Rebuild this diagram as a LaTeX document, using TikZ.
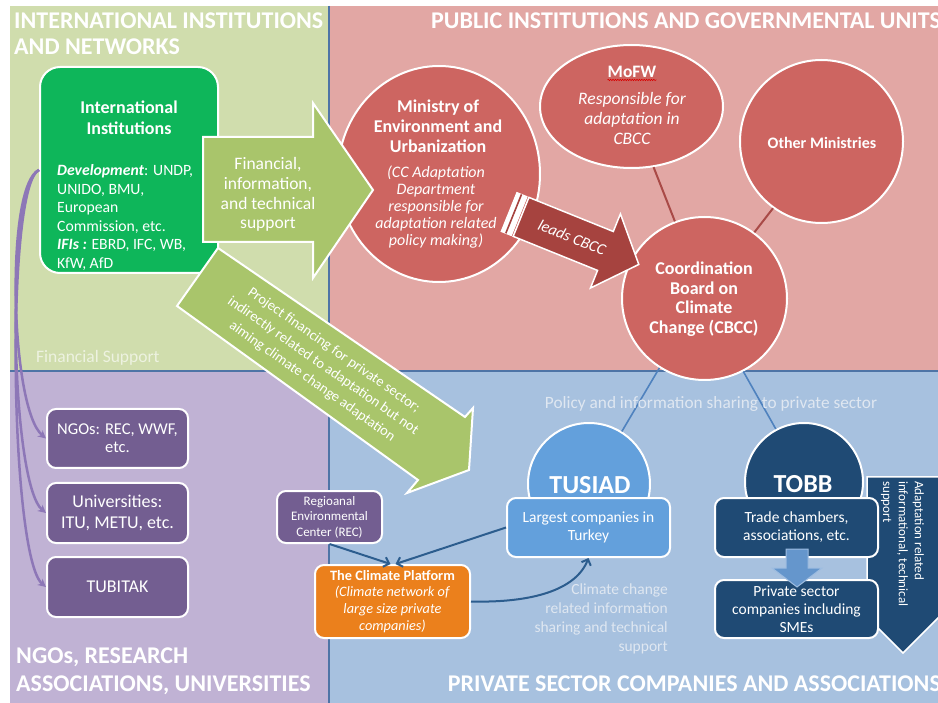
\documentclass[tikz,border=0pt]{standalone}
\usepackage{fontspec}
\setmainfont{Carlito}
\usetikzlibrary{arrows.meta,shapes.geometric,calc,decorations.pathmorphing}
\definecolor{qgreen}{HTML}{D0DDAD}
\definecolor{qpink}{HTML}{E2A7A4}
\definecolor{qpurple}{HTML}{C0B2D4}
\definecolor{qblue}{HTML}{A7C1DF}
\definecolor{divider}{HTML}{4E74A6}
\definecolor{intgreen}{HTML}{0EB65A}
\definecolor{arrgreen}{HTML}{A9C56B}
\definecolor{redcirc}{HTML}{CD6561}
\definecolor{leadsred}{HTML}{A6433F}
\definecolor{redline}{HTML}{A94A47}
\definecolor{tusblue}{HTML}{63A0DC}
\definecolor{tobbblue}{HTML}{1F4A74}
\definecolor{smallarr}{HTML}{6596CC}
\definecolor{smallarrline}{HTML}{9DBCE0}
\definecolor{cpurbox}{HTML}{735E91}
\definecolor{purline}{HTML}{8D77B7}
\definecolor{orangebox}{HTML}{EB801C}
\definecolor{conblue}{HTML}{2C5D8E}
\definecolor{linkblue}{HTML}{4F82BE}
\definecolor{paletext}{HTML}{DFE7F1}
\definecolor{palegreen}{HTML}{EDF2E0}
\newcommand\fsz[2]{\fontsize{#1}{#2}\selectfont}
\tikzset{
  qtitle/.style={text=white, font=\bfseries\fsz{24}{28}, inner sep=0},
  redell/.style={ellipse, fill=redcirc, draw=white, line width=2pt, inner sep=0},
  wtext/.style={text=white, inner sep=0, align=center},
  redlink/.style={draw=redline, line width=2pt},
  bluelink/.style={draw=linkblue, line width=1.6pt},
  rbox/.style={rectangle, rounded corners=9pt, draw=white, line width=2pt, inner sep=0},
  pbox/.style={rbox, fill=cpurbox, text=white, align=center},
  purarrow/.style={draw=purline, line width=2.5pt, -{Stealth[length=8pt,width=8pt]}},
  conn/.style={draw=conblue, line width=2pt, -{Straight Barb[length=5pt,width=10pt]}},
  blockarrow/.style={draw=white, line width=2pt, line join=miter}
}
\begin{document}
\begin{tikzpicture}[x=1pt,y=-1pt]
\useasboundingbox (0,0) rectangle (938,703);
\fill[white] (0,0) rectangle (938,703);
% quadrants
\fill[qgreen] (10,6) rectangle (329,371);
\fill[qpink] (329,6) rectangle (938,371);
\fill[qpurple] (10,371) rectangle (329,703);
\fill[qblue] (329,371) rectangle (938,703);
\draw[divider, line width=2pt] (329,6) -- (329,703) (10,371) -- (938,371);
% titles
\node[qtitle, anchor=base west] (tintl1) at (14,28.5) {INTERNATIONAL INSTITUTIONS};
\node[qtitle, anchor=base west] (tintl2) at (14,55) {AND NETWORKS};
\node[qtitle, anchor=base east] (tpub) at (941,28.5) {PUBLIC INSTITUTIONS AND GOVERNMENTAL UNITS};
\node[qtitle, anchor=base west] (tngo1) at (16,663.5) {NGOs, RESEARCH};
\node[qtitle, anchor=base west] (tngo2) at (16,691) {ASSOCIATIONS, UNIVERSITIES};
\node[qtitle, anchor=base east] (tpriv) at (941,691) {PRIVATE SECTOR COMPANIES AND ASSOCIATIONS};
\node[text=palegreen, font=\fsz{17.5}{20}, inner sep=0, anchor=west] (finsup) at (36,358) {Financial Support};
% red circles
\node[redell, minimum width=202, minimum height=216] (moeu) at (439,174) {};
\node[redell, minimum width=183, minimum height=123] (mofw) at (631.5,106.5) {};
\node[redell, minimum width=163, minimum height=163] (other) at (821.5,141.5) {};
\node[redell, minimum width=165, minimum height=163] (cbcc) at (704.5,298.5) {};
\draw[redlink] (mofw.-70) -- (cbcc.111);
\draw[redlink] (other.-126) -- (cbcc.53);
\node[wtext, font=\bfseries\fsz{18}{19.8}] (moeut1) at (438,126.5) {Ministry of\\Environment and\\Urbanization};
\node[wtext, font=\itshape\fsz{16}{17.2}] (moeut2) at (436,207) {(CC Adaptation\\Department\\responsible for\\adaptation related\\policy making)};
\node[wtext, font=\bfseries\fsz{17.5}{20}] (mofwt) at (632,72) {MoFW};
\draw[red!85!black, line width=0.6pt, decorate, decoration={snake, amplitude=0.7pt, segment length=2.4pt}] ($(mofwt.south west)+(0,2)$) -- ($(mofwt.south east)+(0,2)$);
\node[wtext, font=\itshape\fsz{17.5}{20}] (mofwt2) at (632,118) {Responsible for\\adaptation in\\CBCC};
\node[wtext, font=\bfseries\fsz{16}{19}] (othert) at (822,143) {Other Ministries};
\node[wtext, font=\bfseries\fsz{18}{19.5}] (cbcct) at (704,299) {Coordination\\Board on\\Climate\\Change (CBCC)};
% international box
\node[rbox, fill=intgreen, rounded corners=20pt, minimum width=178, minimum height=206] (intl) at (129,170) {};
\node[wtext, font=\bfseries\fsz{18}{21.5}] (intlt) at (129,117.5) {International\\Institutions};
\node[wtext, font=\fsz{15.7}{18.5}, align=left, anchor=north west] (intlb) at (57,164.5) {\textbf{\textit{Development}}: UNDP,\\UNIDO, BMU,\\European\\Commission, etc.\\\textbf{\textit{IFIs :}} EBRD, IFC, WB,\\KfW, AfD};
% financial arrow
\filldraw[blockarrow, fill=arrgreen] (203,137) -- (313,137) -- (313,103) -- (373,190) -- (313,278) -- (313,242) -- (203,242) -- cycle;
\node[wtext, font=\fsz{17.5}{19.8}] (fint) at (268,194.5) {Financial,\\information,\\and technical\\support};
% project financing arrow
\filldraw[blockarrow, fill=arrgreen] (218,248) -- (465,417) -- (473,408) -- (469,470) -- (407,493) -- (418,480) -- (177,306) -- cycle;
\node[wtext, font=\fsz{14.5}{19}, rotate=-35] (projt) at (323,366) {Project financing for private sector;\\indirectly related to adaptation but not\\aiming climate change adaptation};
% leads arrow
\begin{scope}[shift={(509,212)}, rotate=-22]
  \filldraw[fill=white, draw=white, line width=1pt] (0,-21) rectangle (11,21);
  \draw[leadsred, line width=1.6pt] (5,-21) -- (5,21);
  \filldraw[fill=leadsred, draw=white, line width=1.5pt, line join=miter] (13,-21) -- (104,-21) -- (104,-40) -- (140,0) -- (104,40) -- (104,21) -- (13,21) -- cycle;
  \node[wtext, font=\itshape\fsz{16}{18}, rotate=-22] (leadst) at (68,0) {leads CBCC};
\end{scope}
% NGO boxes
\node[pbox, minimum width=141, minimum height=59, font=\fsz{16.5}{18}] (ngo) at (117.5,438.5) {NGOs: REC, WWF,\\etc.};
\node[pbox, minimum width=141, minimum height=60, font=\fsz{18}{21}] (univ) at (117.5,513) {Universities:\\ITU, METU, etc.};
\node[pbox, minimum width=141, minimum height=60, font=\fsz{18}{21}] (tubitak) at (117.5,587) {TUBITAK};
\draw[purarrow] (intl.west) .. controls (5,185) and (10,408) .. (ngo.west);
\draw[purarrow] (intl.west) .. controls (5,185) and (10,483) .. (univ.west);
\draw[purarrow] (intl.west) .. controls (5,185) and (10,557) .. (tubitak.west);
% private sector
\filldraw[fill=tobbblue, draw=white, line width=1.5pt, line join=miter] (867,477) -- (944,477) -- (944,612) -- (903,653) -- (867,617) -- cycle;
\node[wtext, font=\fsz{13}{15.8}, align=left, rotate=-90, anchor=north west] (adapt) at (924,481) {Adaptation related\\informational, technical\\support};
\node[circle, fill=tusblue, draw=white, line width=2pt, minimum size=122, inner sep=0] (tuscirc) at (589,484) {};
\node[circle, fill=tobbblue, draw=white, line width=2pt, minimum size=118, inner sep=0] (tobbcirc) at (804,482) {};
\draw[bluelink] (cbcc.-123) -- (tuscirc.58);
\draw[bluelink] (cbcc.-62) -- (tobbcirc.118);
\node[wtext, font=\bfseries\fsz{26}{30}] (tust) at (590,485) {TUSIAD};
\node[wtext, font=\bfseries\fsz{26}{30}] (tobbt) at (803,484) {TOBB};
\node[rbox, fill=tusblue, text=white, align=center, minimum width=163, minimum height=59, font=\fsz{15.5}{18}] (tusrect) at (588.5,527.5) {Largest companies in\\Turkey};
\node[rbox, fill=tobbblue, text=white, align=center, minimum width=163, minimum height=59, font=\fsz{15.5}{18}] (tobbrect) at (796.5,527.5) {Trade chambers,\\associations, etc.};
\node[rbox, fill=tobbblue, text=white, align=center, minimum width=163, minimum height=58, font=\fsz{15.5}{18}] (smes) at (796.5,609) {Private sector\\companies including\\SMEs};
\filldraw[fill=smallarr, draw=smallarrline, line width=1pt, line join=miter] (786,549) -- (808,549) -- (808,568) -- (822,568) -- (797,587) -- (772,568) -- (786,568) -- cycle;
\node[pbox, minimum width=105, minimum height=52, font=\fsz{13}{15.5}] (rec) at (329.5,517) {Regioanal\\Environmental\\Center (REC)};
\node[rbox, fill=orangebox, text=white, align=center, minimum width=155, minimum height=73, font=\fsz{14.3}{16.8}] (cp) at (392.5,601.5) {\textbf{The Climate Platform}\\\textit{(Climate network of}\\\textit{large size private}\\\textit{companies)}};
\draw[conn] (rec.south) -- ([xshift=-2pt]cp.north);
\draw[conn] (tusrect.west) -- ([xshift=3pt]cp.north);
\draw[conn] (cp.east) .. controls (532,603) and (576,590) .. (tusrect.south);
\node[text=paletext, font=\fsz{17.3}{19}, inner sep=0] (policy) at (711,404) {Policy and information sharing to private sector};
\node[text=paletext, font=\fsz{15.5}{18.7}, align=right, anchor=north east, inner sep=0] (cctext) at (668,584) {Climate change\\related information\\sharing and technical\\support};
\end{tikzpicture}
\end{document}
